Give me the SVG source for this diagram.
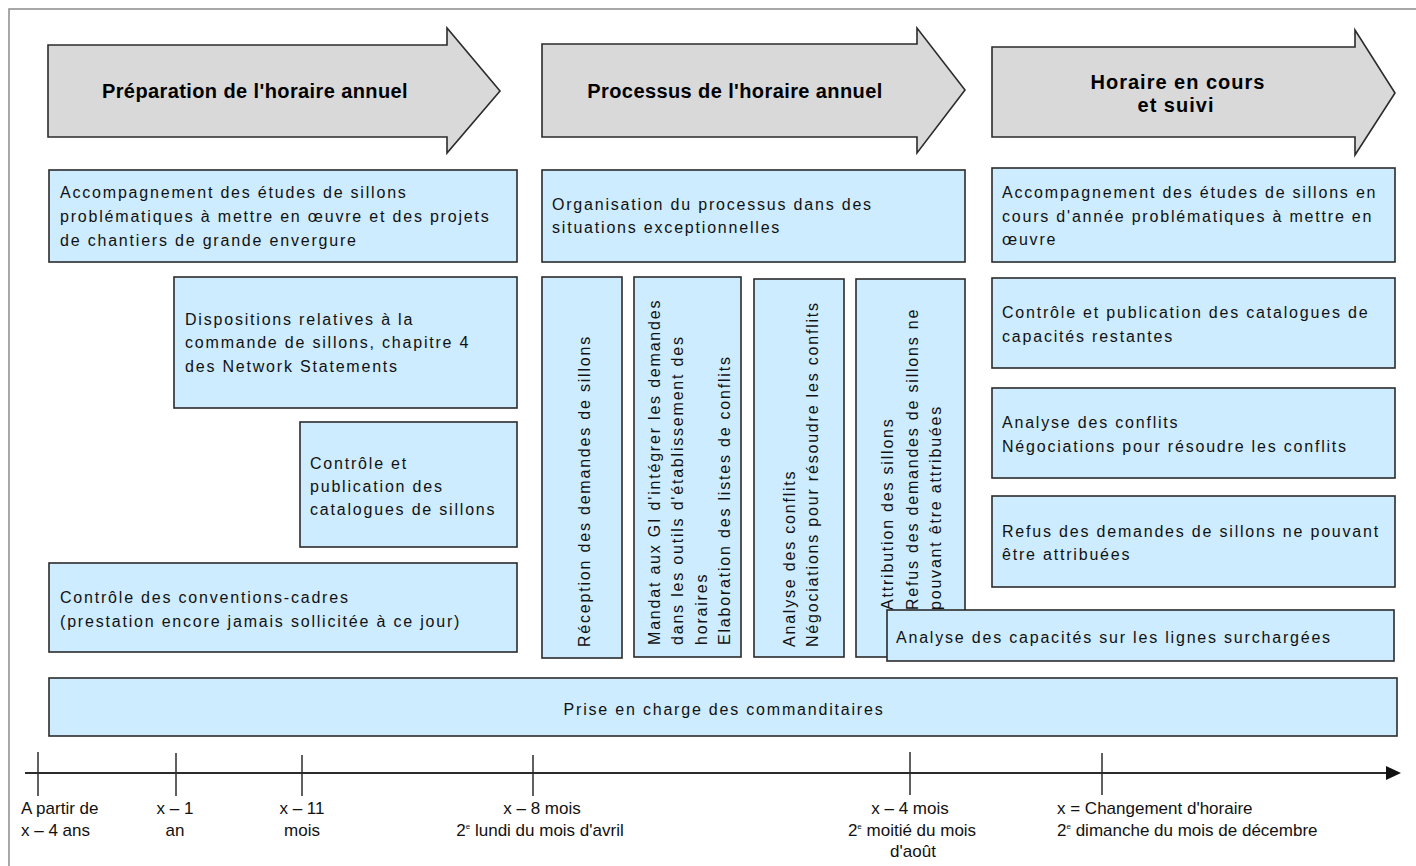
<svg xmlns="http://www.w3.org/2000/svg" width="1416" height="866" viewBox="0 0 1416 866">
<style>
  .arrow { fill: #d9d9d9; stroke: #2b2b2b; stroke-width: 1.6; stroke-linejoin: miter; }
  .box { fill: #cdecff; stroke: #2b2b2b; stroke-width: 1.6; }
  .ht { font-family: "Liberation Sans", Arial, sans-serif; font-size: 20px; font-weight: bold; fill: #000; text-anchor: middle; }
  .bt { font-family: "Liberation Sans", Arial, sans-serif; font-size: 16px; letter-spacing: 1.8px; fill: #111; }
  .tl { font-family: "Liberation Sans", Arial, sans-serif; font-size: 17px; fill: #111; }
  .mid { text-anchor: middle; }
  .axis { stroke: #2b2b2b; stroke-width: 2; fill: none; }
  .tick { stroke: #2b2b2b; stroke-width: 1.5; }
  .sup { font-size: 8px; }
</style>
<rect x="0" y="0" width="1416" height="866" fill="#ffffff"/>
<path d="M9,866 V9 H1416" fill="none" stroke="#8c8c8c" stroke-width="1.5"/>

<g id="phase-preparation">
  <polygon class="arrow" points="48,45 447,45 447,28 500,91 447,153 447,137 48,137"/>
  <text class="ht" x="255" y="98" letter-spacing="0.4">Préparation de l'horaire annuel</text>
</g>
<g id="phase-processus">
  <polygon class="arrow" points="542,44 917,44 917,28 965,90 917,153 917,137 542,137"/>
  <text class="ht" x="735" y="98" letter-spacing="0.4">Processus de l'horaire annuel</text>
</g>
<g id="phase-horaire-en-cours">
  <polygon class="arrow" points="992,47 1355,47 1355,30 1395,93 1355,155 1355,137 992,137"/>
  <text class="ht" x="1178" y="89" letter-spacing="1">Horaire en cours</text>
  <text class="ht" x="1176" y="112" letter-spacing="1">et suivi</text>
</g>

<g id="box-accompagnement">
  <rect class="box" x="49" y="170" width="468" height="92"/>
  <text class="bt" x="60" y="198">Accompagnement des études de sillons</text>
  <text class="bt" x="60" y="222">problématiques à mettre en œuvre et des projets</text>
  <text class="bt" x="60" y="246">de chantiers de grande envergure</text>
</g>
<g id="box-dispositions">
  <rect class="box" x="174" y="277" width="343" height="131"/>
  <text class="bt" x="185" y="325">Dispositions relatives à la</text>
  <text class="bt" x="185" y="348">commande de sillons, chapitre 4</text>
  <text class="bt" x="185" y="372">des Network Statements</text>
</g>
<g id="box-catalogues-sillons">
  <rect class="box" x="300" y="422" width="217" height="125"/>
  <text class="bt" x="310" y="469">Contrôle et</text>
  <text class="bt" x="310" y="492">publication des</text>
  <text class="bt" x="310" y="515">catalogues de sillons</text>
</g>
<g id="box-conventions-cadres">
  <rect class="box" x="49" y="563" width="468" height="89"/>
  <text class="bt" x="60" y="603">Contrôle des conventions-cadres</text>
  <text class="bt" x="60" y="627">(prestation encore jamais sollicitée à ce jour)</text>
</g>

<g id="box-organisation">
  <rect class="box" x="542" y="170" width="423" height="92"/>
  <text class="bt" x="552" y="210">Organisation du processus dans des</text>
  <text class="bt" x="552" y="233">situations exceptionnelles</text>
</g>
<g id="box-reception">
  <rect class="box" x="542" y="277" width="80" height="381"/>
  <text class="bt" transform="translate(590,647) rotate(-90)">Réception des demandes de sillons</text>
</g>
<g id="box-mandat">
  <rect class="box" x="634" y="277" width="107" height="380"/>
  <text class="bt" transform="translate(660,645) rotate(-90)">Mandat aux GI d'intégrer les demandes</text>
  <text class="bt" transform="translate(683,645) rotate(-90)">dans les outils d'établissement des</text>
  <text class="bt" transform="translate(707,645) rotate(-90)">horaires</text>
  <text class="bt" transform="translate(730,645) rotate(-90)">Elaboration des listes de conflits</text>
</g>
<g id="box-analyse-conflits-v">
  <rect class="box" x="754" y="279" width="90" height="378"/>
  <text class="bt" transform="translate(795,647) rotate(-90)">Analyse des conflits</text>
  <text class="bt" transform="translate(818,647) rotate(-90)">Négociations pour résoudre les conflits</text>
</g>
<g id="box-attribution">
  <rect class="box" x="856" y="279" width="109" height="378"/>
  <text class="bt" transform="translate(893,610) rotate(-90)">Attribution des sillons</text>
  <text class="bt" transform="translate(918,610) rotate(-90)">Refus des demandes de sillons ne</text>
  <text class="bt" transform="translate(941,610) rotate(-90)">pouvant être attribuées</text>
</g>

<g id="box-accompagnement-cours">
  <rect class="box" x="992" y="168" width="403" height="94"/>
  <text class="bt" x="1002" y="198">Accompagnement des études de sillons en</text>
  <text class="bt" x="1002" y="222">cours d'année problématiques à mettre en</text>
  <text class="bt" x="1002" y="245">œuvre</text>
</g>
<g id="box-capacites-restantes">
  <rect class="box" x="992" y="278" width="403" height="90"/>
  <text class="bt" x="1002" y="318">Contrôle et publication des catalogues de</text>
  <text class="bt" x="1002" y="342">capacités restantes</text>
</g>
<g id="box-analyse-conflits-h">
  <rect class="box" x="992" y="388" width="403" height="90"/>
  <text class="bt" x="1002" y="428">Analyse des conflits</text>
  <text class="bt" x="1002" y="452">Négociations pour résoudre les conflits</text>
</g>
<g id="box-refus">
  <rect class="box" x="992" y="496" width="403" height="91"/>
  <text class="bt" x="1002" y="537">Refus des demandes de sillons ne pouvant</text>
  <text class="bt" x="1002" y="560">être attribuées</text>
</g>
<g id="box-analyse-capacites">
  <rect class="box" x="887" y="610" width="507" height="51"/>
  <text class="bt" x="896" y="643">Analyse des capacités sur les lignes surchargées</text>
</g>

<g id="box-prise-en-charge">
  <rect class="box" x="49" y="678" width="1348" height="58"/>
  <text class="bt mid" x="724" y="715">Prise en charge des commanditaires</text>
</g>

<g id="connectors">
  <line class="axis" x1="25" y1="773" x2="1388" y2="773"/>
  <polygon points="1386,766 1401,773 1386,780" fill="#111"/>
  <line class="tick" x1="38" y1="752" x2="38" y2="796"/>
  <line class="tick" x1="176" y1="753" x2="176" y2="796"/>
  <line class="tick" x1="302" y1="755" x2="302" y2="796"/>
  <line class="tick" x1="533" y1="755" x2="533" y2="796"/>
  <line class="tick" x1="910" y1="752" x2="910" y2="795"/>
  <line class="tick" x1="1102" y1="753" x2="1102" y2="795"/>
</g>

<g id="label-x-4ans">
  <text class="tl" x="21" y="814">A partir de</text>
  <text class="tl" x="21" y="836">x – 4 ans</text>
</g>
<g id="label-x-1an">
  <text class="tl mid" x="175" y="814">x – 1</text>
  <text class="tl mid" x="175" y="836">an</text>
</g>
<g id="label-x-11mois">
  <text class="tl mid" x="302" y="814">x – 11</text>
  <text class="tl mid" x="302" y="836">mois</text>
</g>
<g id="label-x-8mois">
  <text class="tl mid" x="542" y="814">x – 8 mois</text>
  <text class="tl mid" x="540" y="836">2<tspan class="sup" dy="-7">e</tspan><tspan dy="7"> lundi du mois d'avril</tspan></text>
</g>
<g id="label-x-4mois">
  <text class="tl mid" x="910" y="814">x – 4 mois</text>
  <text class="tl mid" x="912" y="836">2<tspan class="sup" dy="-7">e</tspan><tspan dy="7"> moitié du mois</tspan></text>
  <text class="tl mid" x="913" y="857">d'août</text>
</g>
<g id="label-x-changement">
  <text class="tl" x="1057" y="814">x = Changement d'horaire</text>
  <text class="tl" x="1057" y="836">2<tspan class="sup" dy="-7">e</tspan><tspan dy="7"> dimanche du mois de décembre</tspan></text>
</g>
</svg>
